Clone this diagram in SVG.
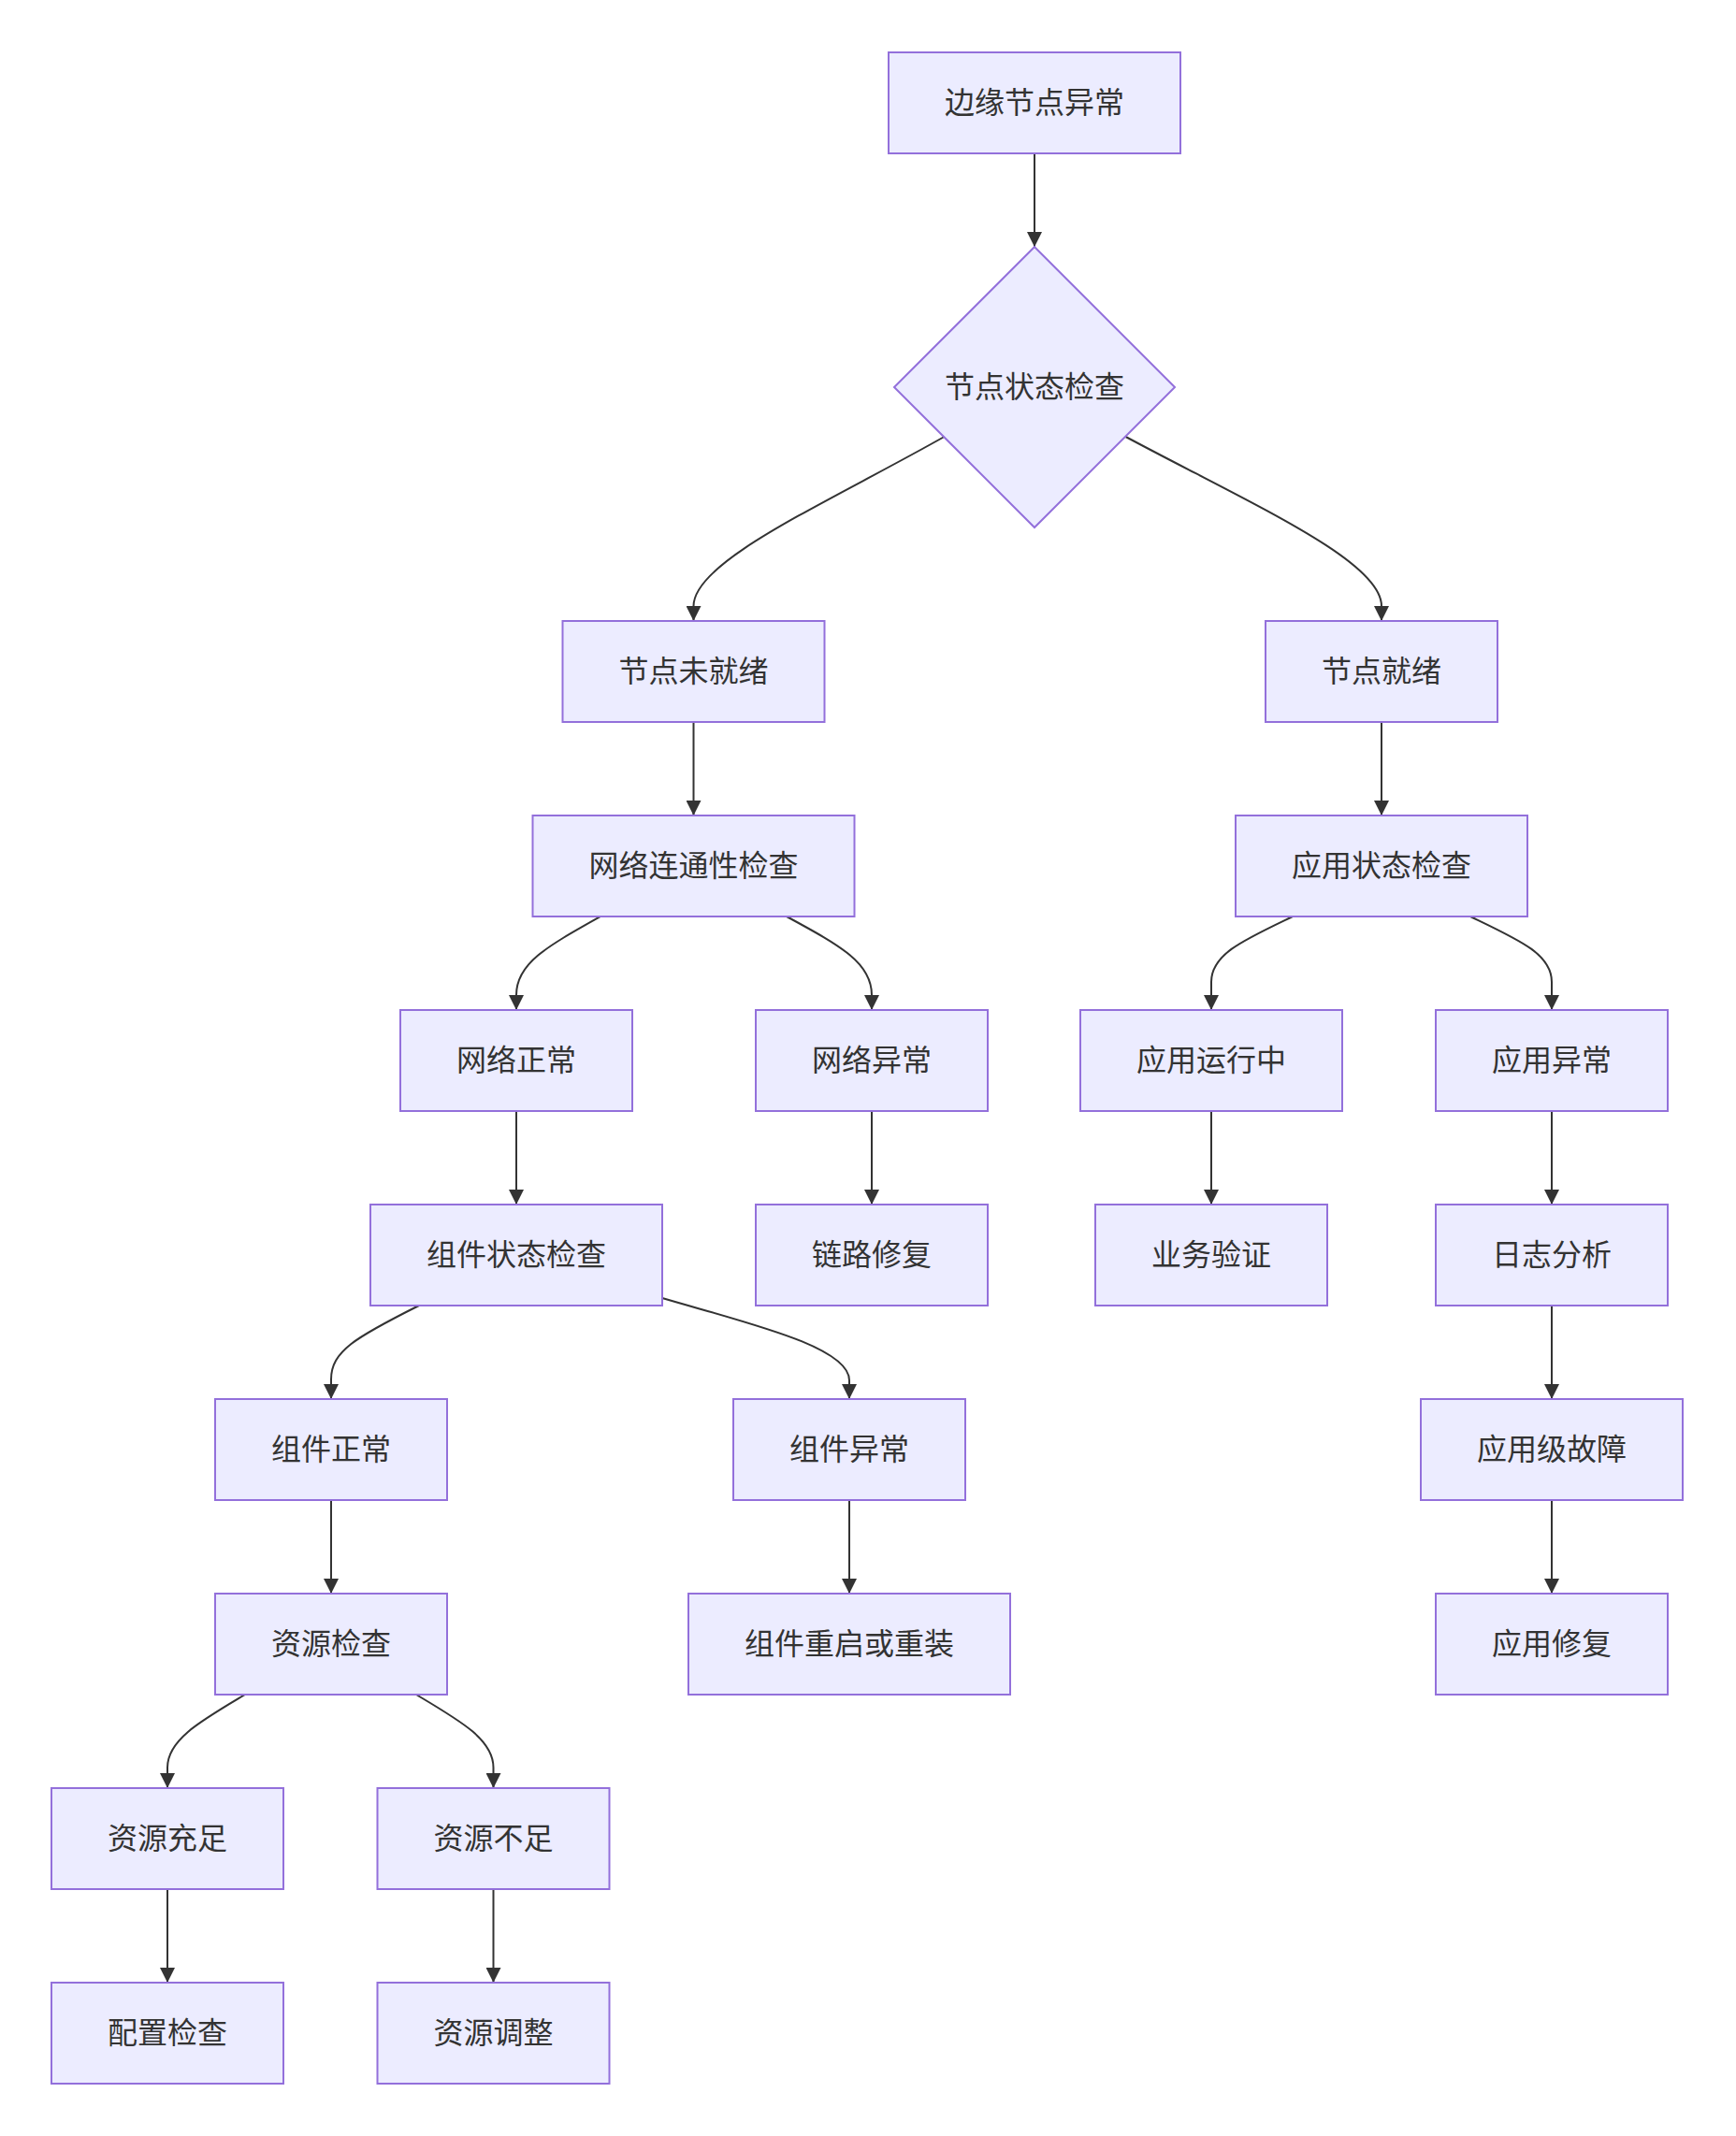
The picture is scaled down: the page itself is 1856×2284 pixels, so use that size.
<svg xmlns="http://www.w3.org/2000/svg" width="1856" height="2284" viewBox="0 0 1856 2284">
<style>
.node rect, .node polygon { fill: #ECECFF; stroke: #9370DB; stroke-width: 2; }
.node text { font-family: "Noto Sans CJK SC", "Noto Sans", sans-serif; font-size: 32px; fill: #333333; text-anchor: middle; dominant-baseline: central; }
.edges path { fill: none; stroke: #333333; stroke-width: 2; marker-end: url(#arrow); }
</style>
<defs>
<marker id="arrow" viewBox="0 0 10 10" refX="10" refY="5" markerWidth="16" markerHeight="16" markerUnits="userSpaceOnUse" orient="auto">
<path d="M0,0 L10,5 L0,10 z" fill="#333333"/>
</marker>
</defs>
<rect width="1856" height="2284" fill="#ffffff"/>
<g class="edges">
<path d="M1106 164 L1106 264"/>
<path d="M1009.5 467 C880 540 741.5 600 741.5 648 L741.5 664"/>
<path d="M1203.5 467 C1340 540 1477 600 1477 648 L1477 664"/>
<path d="M741.5 772 L741.5 872"/>
<path d="M1477 772 L1477 872"/>
<path d="M642 980 C585 1012 552 1030 552 1064 L552 1080"/>
<path d="M841 980 C900 1012 932 1030 932 1064 L932 1080"/>
<path d="M1382 980 C1330 1005 1295 1020 1295 1050 L1295 1080"/>
<path d="M1572 980 C1624 1005 1659 1020 1659 1050 L1659 1080"/>
<path d="M552 1188 L552 1288"/>
<path d="M932 1188 L932 1288"/>
<path d="M1295 1188 L1295 1288"/>
<path d="M1659 1188 L1659 1288"/>
<path d="M448 1396 C380 1430 354 1445 354 1475 L354 1496"/>
<path d="M708 1388 C800 1415 908 1440 908 1476 L908 1496"/>
<path d="M1659 1396 L1659 1496"/>
<path d="M354 1604 L354 1704"/>
<path d="M908 1604 L908 1704"/>
<path d="M1659 1604 L1659 1704"/>
<path d="M262 1812 C215 1840 179 1860 179 1890 L179 1912"/>
<path d="M445 1812 C492 1840 527.5 1860 527.5 1890 L527.5 1912"/>
<path d="M179 2020 L179 2120"/>
<path d="M527.5 2020 L527.5 2120"/>
</g>
<g id="n1" class="node"><rect x="950" y="56" width="312" height="108"/><text x="1106" y="107">边缘节点异常</text></g>
<g id="n2" class="node"><polygon points="1106,264 1256,414 1106,564 956,414"/><text x="1106" y="411">节点状态检查</text></g>
<g id="n3" class="node"><rect x="601.5" y="664" width="280" height="108"/><text x="741.5" y="715">节点未就绪</text></g>
<g id="n4" class="node"><rect x="1353" y="664" width="248" height="108"/><text x="1477" y="715">节点就绪</text></g>
<g id="n5" class="node"><rect x="569.5" y="872" width="344" height="108"/><text x="741.5" y="923">网络连通性检查</text></g>
<g id="n6" class="node"><rect x="1321" y="872" width="312" height="108"/><text x="1477" y="923">应用状态检查</text></g>
<g id="n7" class="node"><rect x="428" y="1080" width="248" height="108"/><text x="552" y="1131">网络正常</text></g>
<g id="n8" class="node"><rect x="808" y="1080" width="248" height="108"/><text x="932" y="1131">网络异常</text></g>
<g id="n9" class="node"><rect x="1155" y="1080" width="280" height="108"/><text x="1295" y="1131">应用运行中</text></g>
<g id="n10" class="node"><rect x="1535" y="1080" width="248" height="108"/><text x="1659" y="1131">应用异常</text></g>
<g id="n11" class="node"><rect x="396" y="1288" width="312" height="108"/><text x="552" y="1339">组件状态检查</text></g>
<g id="n12" class="node"><rect x="808" y="1288" width="248" height="108"/><text x="932" y="1339">链路修复</text></g>
<g id="n13" class="node"><rect x="1171" y="1288" width="248" height="108"/><text x="1295" y="1339">业务验证</text></g>
<g id="n14" class="node"><rect x="1535" y="1288" width="248" height="108"/><text x="1659" y="1339">日志分析</text></g>
<g id="n15" class="node"><rect x="230" y="1496" width="248" height="108"/><text x="354" y="1547">组件正常</text></g>
<g id="n16" class="node"><rect x="784" y="1496" width="248" height="108"/><text x="908" y="1547">组件异常</text></g>
<g id="n17" class="node"><rect x="1519" y="1496" width="280" height="108"/><text x="1659" y="1547">应用级故障</text></g>
<g id="n18" class="node"><rect x="230" y="1704" width="248" height="108"/><text x="354" y="1755">资源检查</text></g>
<g id="n19" class="node"><rect x="736" y="1704" width="344" height="108"/><text x="908" y="1755">组件重启或重装</text></g>
<g id="n20" class="node"><rect x="1535" y="1704" width="248" height="108"/><text x="1659" y="1755">应用修复</text></g>
<g id="n21" class="node"><rect x="55" y="1912" width="248" height="108"/><text x="179" y="1963">资源充足</text></g>
<g id="n22" class="node"><rect x="403.5" y="1912" width="248" height="108"/><text x="527.5" y="1963">资源不足</text></g>
<g id="n23" class="node"><rect x="55" y="2120" width="248" height="108"/><text x="179" y="2171">配置检查</text></g>
<g id="n24" class="node"><rect x="403.5" y="2120" width="248" height="108"/><text x="527.5" y="2171">资源调整</text></g>
</svg>
